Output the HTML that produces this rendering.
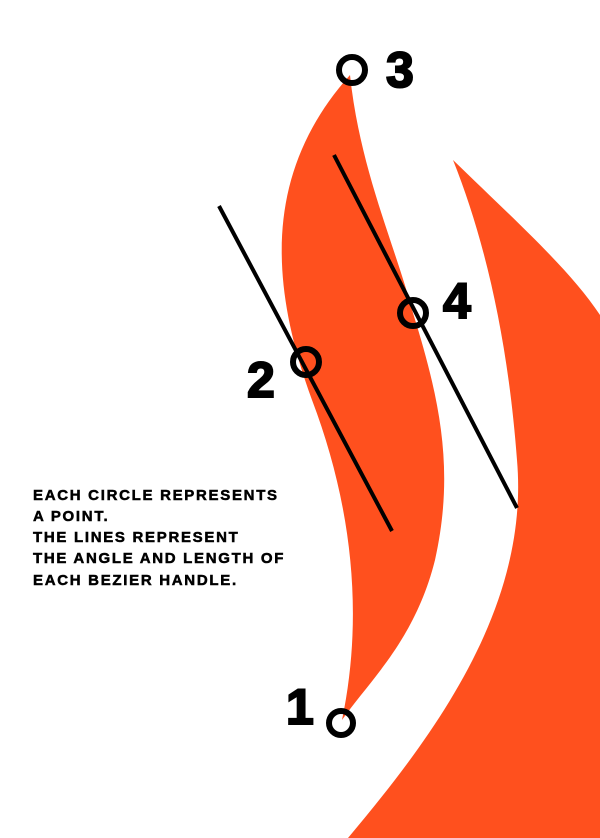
<!DOCTYPE html>
<html><head><meta charset="utf-8"><style>
html,body{margin:0;padding:0;background:#fff;}
svg{display:block}
</style></head><body>
<svg width="600" height="838" viewBox="0 0 600 838" xmlns="http://www.w3.org/2000/svg">
<rect width="600" height="838" fill="#fff"/>
<path d="M453,160 C520,225 570,270 600,315 L600,838 L348,838 C430,740 530,610 517,460 C508,340 485,240 453,160 Z" fill="#ff501e"/>
<path d="M342,720 C365,610 350,500 312,400 C268,280 265,170 350,75 C360,170 395,245 413,313 C440,400 455,470 435,560 C415,640 370,680 342,720 Z" fill="#ff501e"/>
<line x1="219" y1="206" x2="392" y2="531" stroke="#000" stroke-width="4"/>
<line x1="334" y1="155" x2="517" y2="508" stroke="#000" stroke-width="4"/>
<g fill="none" stroke="#000" stroke-width="6">
<circle cx="352" cy="70" r="13"/>
<circle cx="413" cy="313" r="13"/>
<circle cx="306" cy="362" r="13"/>
<circle cx="341" cy="723" r="12"/>
</g>
<g font-family="Liberation Sans, sans-serif" font-weight="bold" font-size="50" fill="#000" stroke="#000" stroke-width="2">
<text x="386" y="87">3</text>
<text x="443" y="318">4</text>
<text x="247" y="397">2</text>
<text x="286" y="724">1</text>
</g>
<g font-family="Liberation Sans, sans-serif" font-weight="bold" font-size="15" fill="#000" stroke="#000" stroke-width="0.5" letter-spacing="1.7">
<text x="33" y="500">EACH CIRCLE REPRESENTS</text>
<text x="33" y="521">A POINT.</text>
<text x="33" y="542">THE LINES REPRESENT</text>
<text x="33" y="563">THE ANGLE AND LENGTH OF</text>
<text x="33" y="585">EACH BEZIER HANDLE.</text>
</g>
</svg>
</body></html>
